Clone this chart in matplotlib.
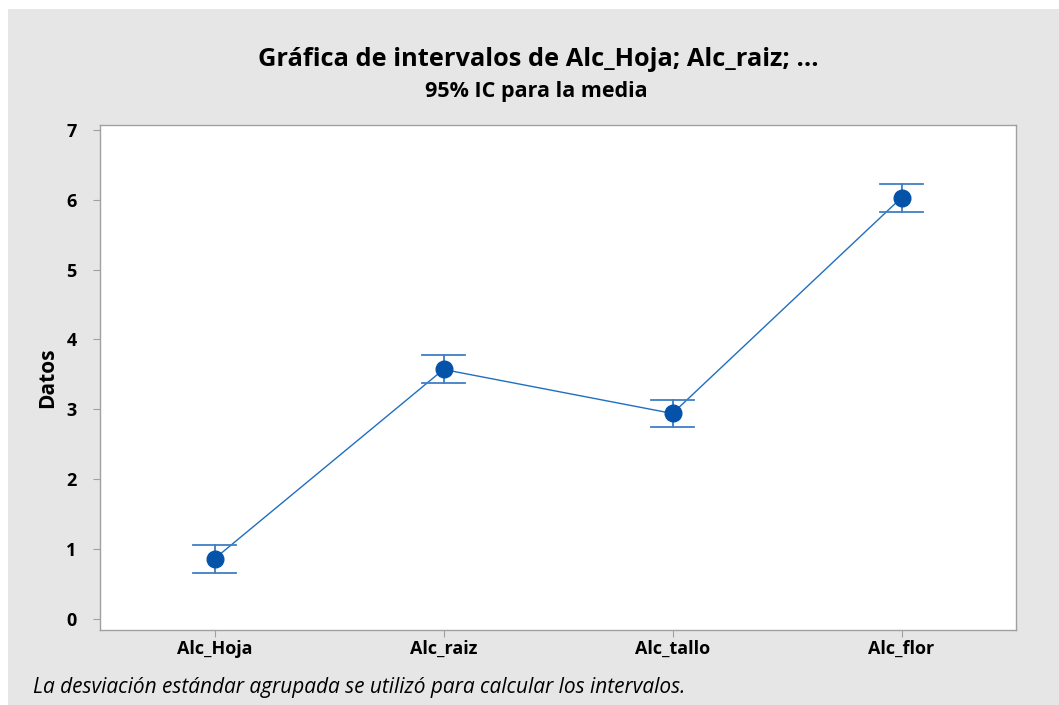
import matplotlib
matplotlib.use("Agg")
import matplotlib.pyplot as plt
from matplotlib.patches import Rectangle

categories = ["Alc_Hoja", "Alc_raiz", "Alc_tallo", "Alc_flor"]
means = [0.86, 3.57, 2.94, 6.03]
lower = [0.66, 3.38, 2.74, 5.83]
upper = [1.06, 3.77, 3.14, 6.23]
yticks = [0, 1, 2, 3, 4, 5, 6, 7]

plt.rcParams['font.family'] = ['Open Sans', 'DejaVu Sans']

W, H = 1059, 705
fig = plt.figure(figsize=(W / 100, H / 100), dpi=100)
fig.patch.set_facecolor('white')
fig.patches.append(Rectangle((8 / W, 0), 1 - 8 / W, 1 - 9 / H, transform=fig.transFigure,
                             facecolor='#e6e6e6', edgecolor='none', zorder=-10))

ax = fig.add_axes([100 / W, 1 - 630 / H, (1016 - 100) / W, (630 - 125) / H])
ax.set_facecolor('white')
x = list(range(len(categories)))

ax.plot(x, means, color='#1f6fc0', lw=1.0, zorder=2)
for xi, lo, hi in zip(x, lower, upper):
    ax.plot([xi, xi], [lo, hi], color='#2a6fba', lw=1.2, zorder=2)
    ax.plot([xi - 0.095, xi + 0.095], [lo, lo], color='#3f7fc4', lw=1.3, zorder=2)
    ax.plot([xi - 0.095, xi + 0.095], [hi, hi], color='#3f7fc4', lw=1.3, zorder=2)
ax.plot(x, means, 'o', color='#0553a8', markersize=12, zorder=3, linestyle='none')

ax.set_xlim(-0.5, 3.5)
ax.set_ylim(-0.16, 7.07)
ax.set_yticks(yticks)
ax.set_xticks(x)
ax.set_xticklabels(categories)
for s in ax.spines.values():
    s.set_color('#a0a0a0')
    s.set_linewidth(1.0)
ax.tick_params(axis='both', colors='#a0a0a0', length=5, width=0.8,
               labelcolor='black', labelsize=13)
ax.tick_params(axis='x', pad=2)
ax.tick_params(axis='y', pad=12)
for lab in ax.get_xticklabels() + ax.get_yticklabels():
    lab.set_fontweight('bold')
ax.set_ylabel('Datos', fontsize=15, fontweight='bold', labelpad=6)

fig.text(538 / W, 1 - 60 / H, 'Gráfica de intervalos de Alc_Hoja; Alc_raiz; ...',
         ha='center', va='center', fontsize=18.3, fontweight='bold')
fig.text(536 / W, 1 - 91 / H, '95% IC para la media',
         ha='center', va='center', fontsize=15.5, fontweight='bold')
fig.text(33 / W, 1 - 687 / H, 'La desviación estándar agrupada se utilizó para calcular los intervalos.',
         ha='left', va='center', fontsize=15, fontstyle='italic')

fig.savefig('out.png', dpi=100, facecolor=fig.get_facecolor())
